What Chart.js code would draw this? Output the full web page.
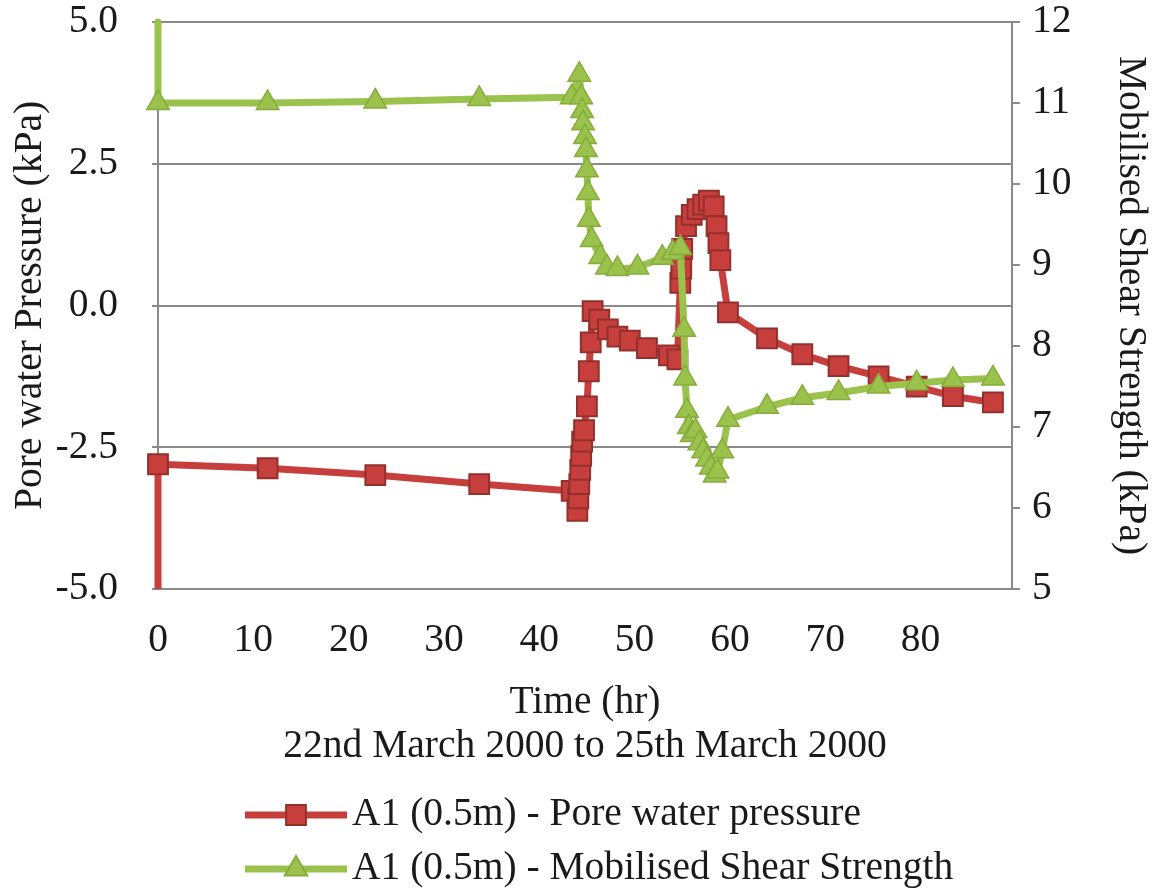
<!DOCTYPE html>
<html>
<head>
<meta charset="utf-8">
<script src="https://cdn.jsdelivr.net/npm/chart.js@4.4.0/dist/chart.umd.min.js"></script>
<style>
html,body{margin:0;padding:0;background:#fff;}
#wrap{width:1161px;height:888px;position:relative;}
</style>
</head>
<body>
<div id="wrap"><canvas id="c" width="1161" height="888"></canvas></div>
<script>
// ---------- data ----------
const seriesNames = ["A1 (0.5m) - Pore water pressure", "A1 (0.5m) - Mobilised Shear Strength"];
const xTitle = ["Time (hr)", "22nd March 2000 to 25th March 2000"];
const leftTitle = "Pore water Pressure (kPa)";
const rightTitle = "Mobilised Shear Strength (kPa)";

const xTicks = [0, 10, 20, 30, 40, 50, 60, 70, 80];
const leftTicks = [-5.0, -2.5, 0.0, 2.5, 5.0];
const rightTicks = [5, 6, 7, 8, 9, 10, 11, 12];

const poreTime = [0, 0, 11.5, 22.8, 33.7, 43.4,
  44.0, 44.1, 44.2, 44.3, 44.4, 44.5, 44.7, 45.0, 45.2, 45.4, 45.6,
  46.3, 47.2, 48.2, 49.5, 51.3, 53.6, 54.5,
  54.8, 54.9, 55.0, 55.4, 56.0, 56.6, 57.2, 57.8, 58.3, 58.6, 58.8, 59.0,
  59.8, 63.9, 67.6, 71.4, 75.6, 79.6, 83.4, 87.6];
const poreValues = [-5.0, -2.8, -2.87, -2.99, -3.15, -3.27,
  -3.62, -3.4, -3.15, -2.9, -2.65, -2.4, -2.2, -1.78, -1.16, -0.65, -0.1,
  -0.25, -0.42, -0.55, -0.62, -0.75, -0.88, -0.95,
  0.4, 0.65, 1.0, 1.4, 1.6, 1.7, 1.78, 1.85, 1.75, 1.4, 1.1, 0.8,
  -0.12, -0.58, -0.86, -1.07, -1.25, -1.43, -1.6, -1.71];

const shearTime = [0, 0, 11.5, 22.8, 33.7, 43.4,
  44.2, 44.4, 44.5, 44.6, 44.8, 44.9, 45.0, 45.1, 45.2, 45.5,
  46.4, 47.1, 48.2, 50.3, 52.9, 54.0, 54.8,
  55.2, 55.3, 55.5, 55.7, 56.0, 56.4, 56.8, 57.2, 57.6, 58.0, 58.4, 58.7, 59.2,
  59.8, 63.9, 67.6, 71.4, 75.6, 79.6, 83.4, 87.6];
const shearValues = [12.0, 11.0, 11.0, 11.02, 11.05, 11.07,
  11.35, 11.07, 10.9, 10.75, 10.58, 10.42, 10.17, 9.89, 9.56, 9.31,
  9.1, 8.97, 8.95, 8.97, 9.09, 9.15, 9.21,
  8.2, 7.6, 7.2, 7.0, 6.9, 6.95, 6.8, 6.7, 6.6, 6.5, 6.4, 6.45, 6.7,
  7.09, 7.25, 7.36, 7.42, 7.5, 7.54, 7.58, 7.6];

// ---------- styles ----------
const RED = '#C63F3C', RED_DARK = '#93302D';
const GREEN = '#9BC24C', GREEN_DARK = '#86AC3C';
const GRID = '#8a8a8a';
const FONT = 'Liberation Serif';
const FSIZE = 39.5;
const TXT = '#1a1a1a';

const toPts = (xs, ys) => xs.map((x, i) => ({x: x, y: ys[i]}));

function drawMarker(ctx, style, x, y, r, fill, stroke) {
  ctx.save();
  ctx.fillStyle = fill; ctx.strokeStyle = stroke; ctx.lineWidth = 2;
  ctx.beginPath();
  if (style === 'rect') {
    const s = r * Math.SQRT1_2;
    ctx.rect(x - s, y - s, 2 * s, 2 * s);
  } else {
    const a = Math.PI * 2 / 3;
    ctx.moveTo(x, y - r);
    ctx.lineTo(x + Math.sin(a) * r, y - Math.cos(a) * r);
    ctx.lineTo(x + Math.sin(2 * a) * r, y - Math.cos(2 * a) * r);
    ctx.closePath();
  }
  ctx.fill(); ctx.stroke();
  ctx.restore();
}

const legendPlugin = {
  id: 'lineMarkerLegend',
  afterDraw(chart) {
    const ctx = chart.ctx;
    const rows = [
      {y: 815, color: RED, dark: RED_DARK, style: 'rect', r: 14, label: seriesNames[0]},
      {y: 869, color: GREEN, dark: GREEN_DARK, style: 'triangle', r: 13, label: seriesNames[1]}
    ];
    rows.forEach(row => {
      ctx.save();
      ctx.strokeStyle = row.color; ctx.lineWidth = 7; ctx.lineCap = 'butt';
      ctx.beginPath(); ctx.moveTo(245, row.y); ctx.lineTo(347, row.y); ctx.stroke();
      drawMarker(ctx, row.style, 296, row.y, row.r, row.color, row.dark);
      ctx.fillStyle = TXT; ctx.font = FSIZE + 'px "' + FONT + '"';
      ctx.textAlign = 'left'; ctx.textBaseline = 'middle';
      ctx.fillText(row.label, 352, row.y);
      ctx.restore();
    });
  }
};

new Chart(document.getElementById('c'), {
  type: 'line',
  data: {
    datasets: [
      {
        label: seriesNames[0],
        data: toPts(poreTime, poreValues),
        yAxisID: 'y',
        borderColor: RED, borderWidth: 7, borderJoinStyle: 'round',
        pointStyle: 'rect',
        pointRadius: c => c.dataIndex === 0 ? 0 : 14,
        pointBackgroundColor: RED, pointBorderColor: RED_DARK, pointBorderWidth: 2,
        tension: 0, clip: false, order: 1
      },
      {
        label: seriesNames[1],
        data: toPts(shearTime, shearValues),
        yAxisID: 'y2',
        borderColor: GREEN, borderWidth: 7, borderJoinStyle: 'round',
        pointStyle: 'triangle',
        pointRadius: c => c.dataIndex === 0 ? 0 : 13,
        pointBackgroundColor: GREEN, pointBorderColor: GREEN_DARK, pointBorderWidth: 1.5,
        tension: 0, clip: false, order: 0
      }
    ]
  },
  options: {
    responsive: false,
    animation: false,
    devicePixelRatio: 1,
    layout: {padding: {top: 22, bottom: 119, left: 0, right: 0}},
    plugins: {legend: {display: false}, tooltip: {enabled: false}},
    scales: {
      x: {
        type: 'linear', min: 0, max: 89.6,
        afterBuildTicks: s => { s.ticks = xTicks.map(v => ({value: v})); },
        afterFit: s => { s.height = 180; s.paddingLeft = 0; s.paddingRight = 0; },
        grid: {display: false},
        border: {display: true, color: GRID, width: 2},
        ticks: {color: TXT, font: {family: FONT, size: FSIZE}, padding: 20, maxRotation: 0, autoSkip: false},
        title: {display: true, text: xTitle, color: TXT, font: {family: FONT, size: FSIZE, lineHeight: 1.12}, padding: {top: 0, bottom: 0}}
      },
      y: {
        position: 'left', min: -5, max: 5,
        afterBuildTicks: s => { s.ticks = leftTicks.map(v => ({value: v})); },
        afterFit: s => { s.width = 158; s.paddingTop = 0; s.paddingBottom = 0; },
        grid: {display: true, color: GRID, lineWidth: 2, drawTicks: true, tickLength: 6},
        border: {display: true, color: GRID, width: 2},
        ticks: {color: TXT, font: {family: FONT, size: FSIZE}, padding: 34, callback: v => v.toFixed(1)},
        title: {display: true, text: leftTitle, color: TXT, font: {family: FONT, size: FSIZE}, padding: {top: 7, bottom: 0}}
      },
      y2: {
        position: 'right', min: 5, max: 12,
        afterBuildTicks: s => { s.ticks = rightTicks.map(v => ({value: v})); },
        afterFit: s => { s.width = 149; s.paddingTop = 0; s.paddingBottom = 0; },
        grid: {display: true, drawOnChartArea: false, color: GRID, lineWidth: 2, drawTicks: true, tickLength: 8},
        border: {display: true, color: GRID, width: 2},
        ticks: {color: TXT, font: {family: FONT, size: FSIZE}, padding: 12},
        title: {display: true, text: rightTitle, color: TXT, font: {family: FONT, size: FSIZE}, padding: {top: 7, bottom: 0}}
      }
    }
  },
  plugins: [legendPlugin]
});
</script>
</body>
</html>
